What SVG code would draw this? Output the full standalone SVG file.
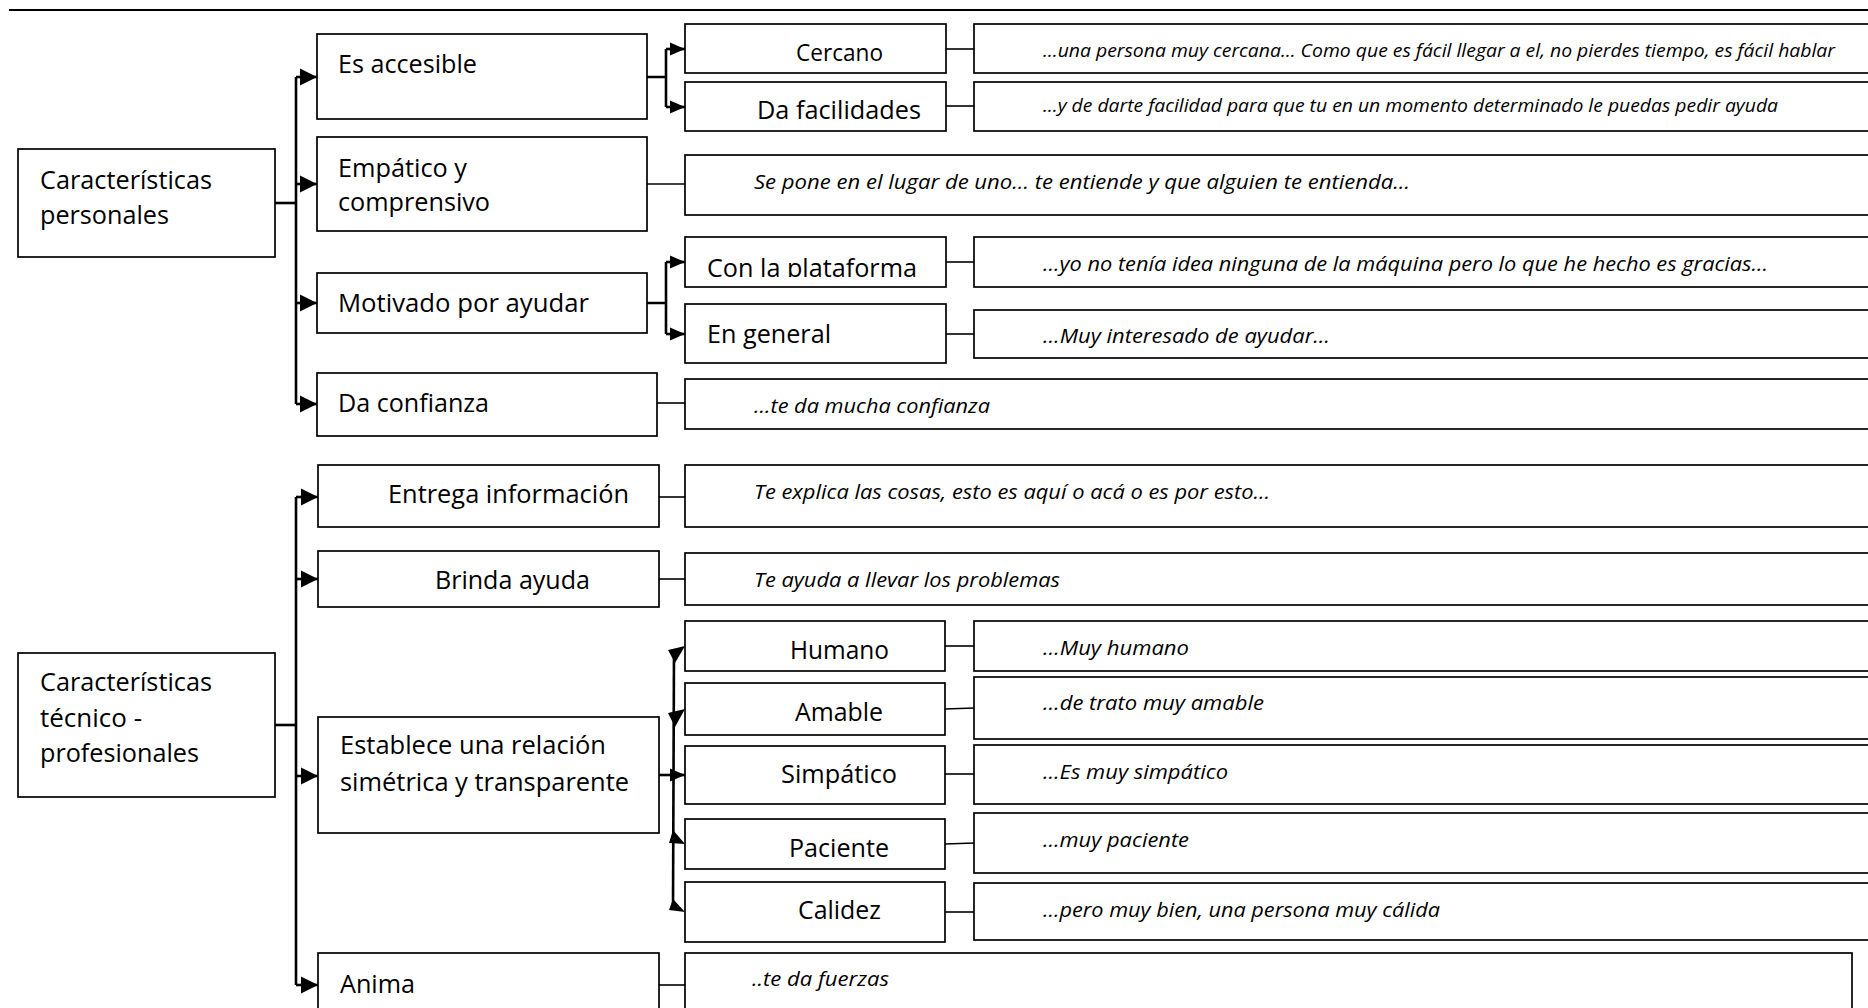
<svg xmlns="http://www.w3.org/2000/svg" width="1868" height="1008" viewBox="0 0 1868 1008">
  <style>
    .box { fill: #ffffff; stroke: #000000; stroke-width: 1.7; }
    .lbl { font-family: "Open Sans", "Noto Sans", "Liberation Sans", sans-serif; font-size: 25.5px; fill: #000000; }
    .q { font-family: "Open Sans", "Noto Sans", "Liberation Sans", sans-serif; font-style: italic; font-size: 20.5px; fill: #000000; }
    .qs { font-size: 18.5px; }
    .trunk { fill: none; stroke: #000000; stroke-width: 2.6; }
    .link { fill: none; stroke: #000000; stroke-width: 1.6; }
    .head { fill: #000000; stroke: none; }
  </style>
  <defs>
    <marker id="arrowBig" markerUnits="userSpaceOnUse" markerWidth="18" markerHeight="18" refX="17" refY="9" orient="auto">
      <path d="M0,0.5 L17,9 L0,17.5 z" fill="#000000"/>
    </marker>
    <marker id="arrowSmall" markerUnits="userSpaceOnUse" markerWidth="16" markerHeight="14" refX="15" refY="7" orient="auto">
      <path d="M0,0.5 L15,7 L0,13.5 z" fill="#000000"/>
    </marker>
    <clipPath id="clipPlataforma">
      <rect x="686" y="238" width="259" height="39"/>
    </clipPath>
  </defs>

  <rect x="0" y="0" width="1868" height="1008" fill="#ffffff"/>

  <!-- page rule at the top -->
  <line x1="9" y1="10" x2="1868" y2="10" stroke="#000000" stroke-width="2"/>

  <!-- ===== connectors ===== -->
  <g id="connectors">
    <!-- personal characteristics trunk -->
    <path class="trunk" d="M275,203 H296"/>
    <path class="trunk" d="M296,77 V404"/>
    <path class="trunk" d="M296,77 H317" marker-end="url(#arrowBig)"/>
    <path class="trunk" d="M296,184 H317" marker-end="url(#arrowBig)"/>
    <path class="trunk" d="M296,303 H317" marker-end="url(#arrowBig)"/>
    <path class="trunk" d="M296,404 H317" marker-end="url(#arrowBig)"/>

    <!-- Es accesible fan -->
    <path class="trunk" d="M647,77 H666 M666,49 V107"/>
    <path class="trunk" d="M666,49 H685" marker-end="url(#arrowSmall)"/>
    <path class="trunk" d="M666,107 H685" marker-end="url(#arrowSmall)"/>

    <!-- Motivado por ayudar fan -->
    <path class="trunk" d="M647,303 H666 M666,262 V334"/>
    <path class="trunk" d="M666,262 H685" marker-end="url(#arrowSmall)"/>
    <path class="trunk" d="M666,334 H685" marker-end="url(#arrowSmall)"/>

    <!-- links to quotes (personal) -->
    <path class="link" d="M946,49 H974"/>
    <path class="link" d="M946,106 H974"/>
    <path class="link" d="M647,184 H685"/>
    <path class="link" d="M946,262 H974"/>
    <path class="link" d="M946,334 H974"/>
    <path class="link" d="M657,403 H685"/>

    <!-- technical-professional trunk -->
    <path class="trunk" d="M275,725 H296"/>
    <path class="trunk" d="M296,497 V985"/>
    <path class="trunk" d="M296,497 H318" marker-end="url(#arrowBig)"/>
    <path class="trunk" d="M296,579 H318" marker-end="url(#arrowBig)"/>
    <path class="trunk" d="M296,776 H318" marker-end="url(#arrowBig)"/>
    <path class="trunk" d="M296,985 H318" marker-end="url(#arrowBig)"/>

    <!-- Establece fan -->
    <path class="trunk" d="M659,775 H673"/>
    <path class="trunk" d="M674,650 L673,910"/>
    <path class="trunk" d="M673,775 H685" marker-end="url(#arrowSmall)"/>
    <polygon class="head" points="685,646 668,650 675,663"/>
    <polygon class="head" points="685,709 668,713 675,727"/>
    <polygon class="head" points="685,844 673,830 669,843"/>
    <polygon class="head" points="685,912 673,899 669,910"/>

    <!-- links to quotes (technical) -->
    <path class="link" d="M659,497 H685"/>
    <path class="link" d="M659,579 H685"/>
    <path class="link" d="M945,646 H974"/>
    <path class="link" d="M945,709 L974,708"/>
    <path class="link" d="M945,774 H974"/>
    <path class="link" d="M945,844 L974,843"/>
    <path class="link" d="M945,912 H974"/>
    <path class="link" d="M659,985 H685"/>
  </g>

  <!-- ===== personal characteristics ===== -->
  <g id="personales">
    <rect class="box" x="18" y="149" width="257" height="108"/>
    <text class="lbl" x="40" y="189" textLength="172" lengthAdjust="spacingAndGlyphs">Características</text>
    <text class="lbl" x="40" y="224" textLength="129" lengthAdjust="spacingAndGlyphs">personales</text>
  </g>

  <g id="es-accesible">
    <rect class="box" x="317" y="34" width="330" height="85"/>
    <text class="lbl" x="338" y="73" textLength="139" lengthAdjust="spacingAndGlyphs">Es accesible</text>
  </g>

  <g id="cercano">
    <rect class="box" x="685" y="24" width="261" height="49"/>
    <text class="lbl" x="796" y="61" style="font-size:23px" textLength="87" lengthAdjust="spacingAndGlyphs">Cercano</text>
  </g>
  <g id="cercano-quote">
    <rect class="box" x="974" y="24" width="920" height="49"/>
    <text class="q qs" x="1043" y="57" textLength="792" lengthAdjust="spacingAndGlyphs">…una persona muy cercana… Como que es fácil llegar a el, no pierdes tiempo, es fácil hablar</text>
  </g>

  <g id="da-facilidades">
    <rect class="box" x="685" y="82" width="261" height="49"/>
    <text class="lbl" x="757" y="119" textLength="164" lengthAdjust="spacingAndGlyphs">Da facilidades</text>
  </g>
  <g id="da-facilidades-quote">
    <rect class="box" x="974" y="82" width="920" height="49"/>
    <text class="q qs" x="1043" y="112" textLength="735" lengthAdjust="spacingAndGlyphs">…y de darte facilidad para que tu en un momento determinado le puedas pedir ayuda</text>
  </g>

  <g id="empatico">
    <rect class="box" x="317" y="137" width="330" height="94"/>
    <text class="lbl" x="338" y="177" textLength="129" lengthAdjust="spacingAndGlyphs">Empático y</text>
    <text class="lbl" x="338" y="211" textLength="152" lengthAdjust="spacingAndGlyphs">comprensivo</text>
  </g>
  <g id="empatico-quote">
    <rect class="box" x="685" y="155" width="1209" height="60"/>
    <text class="q" x="754" y="189" textLength="656" lengthAdjust="spacingAndGlyphs">Se pone en el lugar de uno… te entiende y que alguien te entienda…</text>
  </g>

  <g id="motivado">
    <rect class="box" x="317" y="273" width="330" height="60"/>
    <text class="lbl" x="338" y="312" textLength="251" lengthAdjust="spacingAndGlyphs">Motivado por ayudar</text>
  </g>

  <g id="con-la-plataforma">
    <rect class="box" x="685" y="237" width="261" height="50"/>
    <text class="lbl" x="707" y="277" clip-path="url(#clipPlataforma)" textLength="210" lengthAdjust="spacingAndGlyphs">Con la plataforma</text>
  </g>
  <g id="con-la-plataforma-quote">
    <rect class="box" x="974" y="237" width="920" height="50"/>
    <text class="q" x="1043" y="271" textLength="725" lengthAdjust="spacingAndGlyphs">…yo no tenía idea ninguna de la máquina pero lo que he hecho es gracias…</text>
  </g>

  <g id="en-general">
    <rect class="box" x="685" y="304" width="261" height="59"/>
    <text class="lbl" x="707" y="343" textLength="124" lengthAdjust="spacingAndGlyphs">En general</text>
  </g>
  <g id="en-general-quote">
    <rect class="box" x="974" y="310" width="920" height="48"/>
    <text class="q" x="1043" y="343" textLength="287" lengthAdjust="spacingAndGlyphs">…Muy interesado de ayudar…</text>
  </g>

  <g id="da-confianza">
    <rect class="box" x="317" y="373" width="340" height="63"/>
    <text class="lbl" x="338" y="412" textLength="151" lengthAdjust="spacingAndGlyphs">Da confianza</text>
  </g>
  <g id="da-confianza-quote">
    <rect class="box" x="685" y="379" width="1209" height="50"/>
    <text class="q" x="754" y="413" textLength="236" lengthAdjust="spacingAndGlyphs">…te da mucha confianza</text>
  </g>

  <!-- ===== technical-professional characteristics ===== -->
  <g id="tecnico-profesionales">
    <rect class="box" x="18" y="653" width="257" height="144"/>
    <text class="lbl" x="40" y="691" textLength="172" lengthAdjust="spacingAndGlyphs">Características</text>
    <text class="lbl" x="40" y="727" textLength="102" lengthAdjust="spacingAndGlyphs">técnico -</text>
    <text class="lbl" x="40" y="762" textLength="159" lengthAdjust="spacingAndGlyphs">profesionales</text>
  </g>

  <g id="entrega-informacion">
    <rect class="box" x="318" y="465" width="341" height="62"/>
    <text class="lbl" x="388" y="503" textLength="241" lengthAdjust="spacingAndGlyphs">Entrega información</text>
  </g>
  <g id="entrega-informacion-quote">
    <rect class="box" x="685" y="465" width="1209" height="62"/>
    <text class="q" x="754" y="499" textLength="516" lengthAdjust="spacingAndGlyphs">Te explica las cosas, esto es aquí o acá o es por esto…</text>
  </g>

  <g id="brinda-ayuda">
    <rect class="box" x="318" y="551" width="341" height="56"/>
    <text class="lbl" x="435" y="589" textLength="155" lengthAdjust="spacingAndGlyphs">Brinda ayuda</text>
  </g>
  <g id="brinda-ayuda-quote">
    <rect class="box" x="685" y="553" width="1209" height="52"/>
    <text class="q" x="754" y="587" textLength="306" lengthAdjust="spacingAndGlyphs">Te ayuda a llevar los problemas</text>
  </g>

  <g id="establece-relacion">
    <rect class="box" x="318" y="717" width="341" height="116"/>
    <text class="lbl" x="340" y="754" textLength="266" lengthAdjust="spacingAndGlyphs">Establece una relación</text>
    <text class="lbl" x="340" y="791" textLength="289" lengthAdjust="spacingAndGlyphs">simétrica y transparente</text>
  </g>

  <g id="humano">
    <rect class="box" x="685" y="621" width="260" height="50"/>
    <text class="lbl" x="790" y="659" textLength="99" lengthAdjust="spacingAndGlyphs">Humano</text>
  </g>
  <g id="humano-quote">
    <rect class="box" x="974" y="621" width="920" height="50"/>
    <text class="q" x="1043" y="655" textLength="146" lengthAdjust="spacingAndGlyphs">…Muy humano</text>
  </g>

  <g id="amable">
    <rect class="box" x="685" y="683" width="260" height="52"/>
    <text class="lbl" x="795" y="721" textLength="88" lengthAdjust="spacingAndGlyphs">Amable</text>
  </g>
  <g id="amable-quote">
    <rect class="box" x="974" y="677" width="920" height="62"/>
    <text class="q" x="1043" y="710" textLength="221" lengthAdjust="spacingAndGlyphs">…de trato muy amable</text>
  </g>

  <g id="simpatico">
    <rect class="box" x="685" y="746" width="260" height="58"/>
    <text class="lbl" x="781" y="783" textLength="116" lengthAdjust="spacingAndGlyphs">Simpático</text>
  </g>
  <g id="simpatico-quote">
    <rect class="box" x="974" y="745" width="920" height="59"/>
    <text class="q" x="1043" y="779" textLength="185" lengthAdjust="spacingAndGlyphs">…Es muy simpático</text>
  </g>

  <g id="paciente">
    <rect class="box" x="685" y="819" width="260" height="50"/>
    <text class="lbl" x="789" y="857" textLength="100" lengthAdjust="spacingAndGlyphs">Paciente</text>
  </g>
  <g id="paciente-quote">
    <rect class="box" x="974" y="813" width="920" height="60"/>
    <text class="q" x="1043" y="847" textLength="146" lengthAdjust="spacingAndGlyphs">…muy paciente</text>
  </g>

  <g id="calidez">
    <rect class="box" x="685" y="882" width="260" height="60"/>
    <text class="lbl" x="798" y="919" textLength="83" lengthAdjust="spacingAndGlyphs">Calidez</text>
  </g>
  <g id="calidez-quote">
    <rect class="box" x="974" y="883" width="920" height="57"/>
    <text class="q" x="1043" y="917" textLength="397" lengthAdjust="spacingAndGlyphs">…pero muy bien, una persona muy cálida</text>
  </g>

  <g id="anima">
    <rect class="box" x="318" y="953" width="341" height="70"/>
    <text class="lbl" x="340" y="993" textLength="75" lengthAdjust="spacingAndGlyphs">Anima</text>
  </g>
  <g id="anima-quote">
    <rect class="box" x="685" y="953" width="1167" height="70"/>
    <text class="q" x="752" y="986" textLength="137" lengthAdjust="spacingAndGlyphs">..te da fuerzas</text>
  </g>
</svg>
